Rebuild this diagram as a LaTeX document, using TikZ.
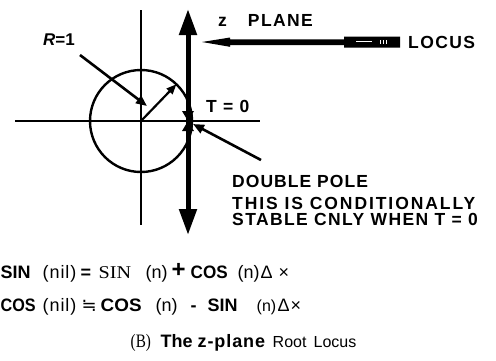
\documentclass[tikz,border=0pt]{standalone}
\usepackage{fontspec}
\usepackage{graphicx}
\setmainfont{Liberation Sans}
\newfontfamily\lab[LetterSpace=8]{Liberation Sans}
\newfontfamily\spc[LetterSpace=5]{Liberation Sans}
\newfontfamily\serf{Liberation Serif}
\newfontfamily\dv{DejaVu Sans}
\newcommand\putat[2]{\makebox[0pt][l]{\hspace{#1pt}#2}}
\usetikzlibrary{arrows.meta}
\begin{document}
\begin{tikzpicture}[x=1pt,y=-1pt,
  axis/.style={line width=2.4pt},
  bigarrow/.style={line width=5pt,
    {Triangle[length=26pt,width=17pt]}-{Triangle[length=26pt,width=17pt]}},
  ptr/.style={line width=2.6pt,-{Triangle[length=11pt,width=9pt]}},
  lbl/.style={anchor=base west,inner sep=0pt,font=\lab\bfseries\fontsize{17.5}{17.5}\selectfont},
  eq/.style={anchor=base west,inner sep=0pt,font=\fontsize{18}{18}\selectfont}]
\useasboundingbox (0,0) rectangle (496,360);
\fill[white] (0,0) rectangle (496,360);
% axes and circle
\coordinate (o) at (141,121);
\coordinate (hl) at (15,121);
\coordinate (hr) at (260,121);
\coordinate (vt) at (141,10);
\coordinate (vb) at (141,225);
\draw[axis] (hl) -- (hr);
\draw[axis] (vt) -- (vb);
\draw[axis] (o) circle[radius=51];
% thick vertical locus arrow
\coordinate (at) at (188,9);
\coordinate (ab) at (188,235);
\draw[bigarrow] (ab) -- (at);
% double pole marker
\coordinate (dpole) at (188,121);
\fill (182,111) -- (194,111) -- (dpole) -- cycle;
\fill (182,131) -- (194,131) -- (dpole) -- cycle;
% radius arrow
\coordinate (rc) at (176.4,84.3);
\draw[line width=2.2pt,-{Triangle[length=10pt,width=8pt]}] (o) -- (rc);
% locus pointer arrow
\fill (202,42) -- (230,37.5) -- (230,39.3) -- (344,39.3) -- (344,36.5) -- (400,36.5)
  -- (400,47.5) -- (344,47.5) -- (344,45) -- (230,45) -- (230,46.8) -- cycle;
\fill[white] (356,41.3) rectangle (372,42.3);
\fill[white] (380,40) rectangle (381,44);
\fill[white] (383,40) rectangle (384,44);
\fill[white] (386,40) rectangle (387,44);
% labels
\node[lbl] (zp) at (218,26) {z\hspace{21pt}PLANE};
\node[lbl] (loc) at (408,48) {LOCUS};
\node[lbl] (t0) at (206,112) {T = 0};
\node[lbl] (dp) at (232,187) {\addfontfeature{LetterSpace=6}DOUBLE POLE};
\node[lbl] (c1) at (232,209) {\addfontfeature{LetterSpace=11}THIS IS CONDITIONALLY};
\node[lbl] (c2) at (232,225) {STABLE CNLY WHEN T = 0};
\node[anchor=base west,inner sep=0pt,font=\bfseries\fontsize{17}{17}\selectfont] (r1) at (43,45) {\textit{R}=1};
% pointers
\coordinate (rp) at (80,55);
\coordinate (rq) at (147,106);
\draw[ptr] (rp) -- (rq);
\coordinate (dq) at (261,160);
\coordinate (dt) at (193,124);
\draw[ptr] (dq) -- (dt);
% equations
\node[eq] (e1) at (0,278) {\putat{0}{\bfseries SIN}\putat{42}{\spc(nil)}\putat{80}{\bfseries =}\putat{98}{\serf\scalebox{1.12}[1]{SIN}}\putat{145}{(n)}\putat{171}{\raisebox{1pt}{\fontsize{24}{24}\selectfont\bfseries +}}\putat{190}{\bfseries\scalebox{0.95}[1]{COS}}\putat{237}{(n)}\putat{260}{Δ}\putat{278}{×}};
\node[eq] (e2) at (0,311) {\putat{0}{\bfseries\scalebox{0.9}[1]{COS}}\putat{42}{\spc(nil)}\putat{81}{\dv ≒}\putat{100}{\bfseries\scalebox{1.05}[1]{COS}}\putat{155}{(n)}\putat{190}{\bfseries -}\putat{207}{\bfseries SIN}\putat{256}{\fontsize{16}{16}\selectfont(n)}\putat{277}{Δ}\putat{290}{×}};
\node[eq] (cap) at (0,347) {\putat{130}{\serf\fontsize{19}{19}\selectfont\scalebox{0.8}[1]{(B)}}\putat{160}{\bfseries The}\putat{197}{\spc\bfseries z-plane}\putat{272}{\fontsize{16}{16}\selectfont Root}\putat{313}{\fontsize{16}{16}\selectfont Locus}};
\end{tikzpicture}
\end{document}
